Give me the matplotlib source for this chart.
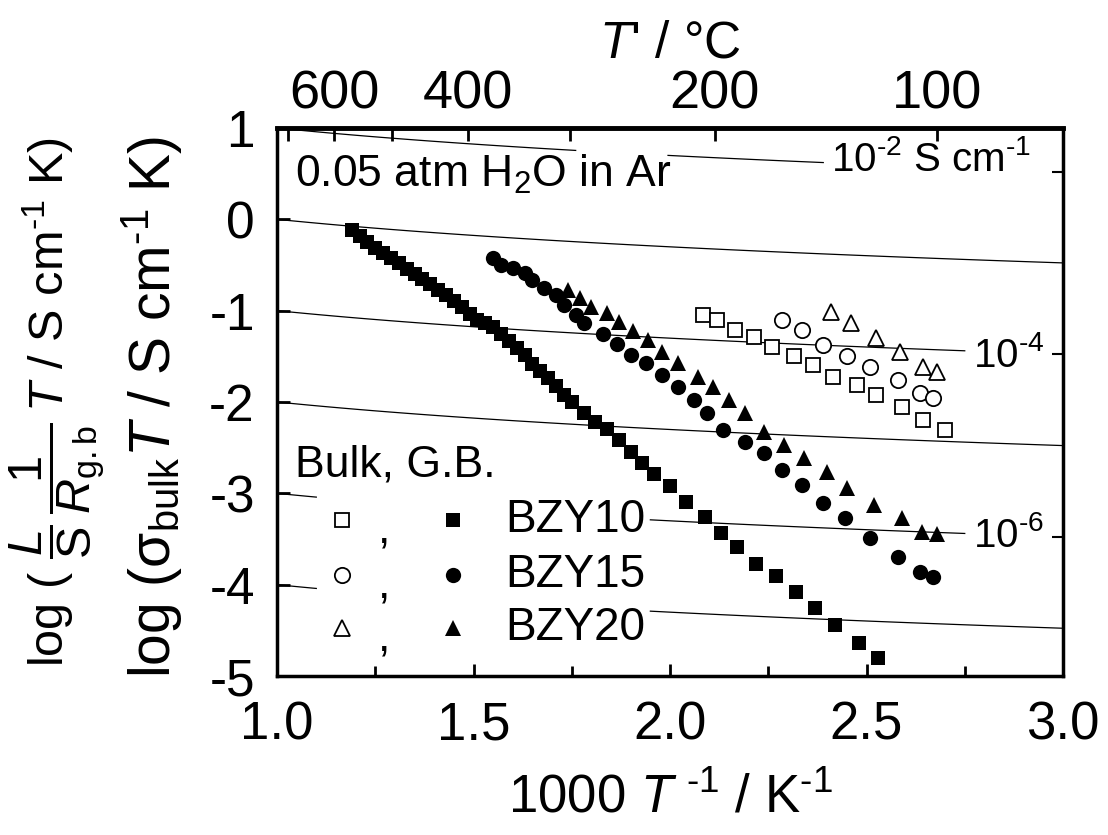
import numpy as np
import matplotlib
matplotlib.use("Agg")
import matplotlib.pyplot as plt
from matplotlib.ticker import MultipleLocator, FixedLocator, NullFormatter

FONT = 'Liberation Sans'
plt.rcParams['font.family'] = [FONT, 'DejaVu Sans']
plt.rcParams['mathtext.fontset'] = 'custom'
plt.rcParams['mathtext.rm'] = FONT
plt.rcParams['mathtext.it'] = FONT + ':italic'
plt.rcParams['mathtext.bf'] = FONT + ':bold'

HY = "\u2010"  # short hyphen used in the exponents

# ---------------- data ----------------
bzy10_bulk_x = [1.19, 1.21, 1.23, 1.25, 1.27, 1.29, 1.31, 1.33, 1.35, 1.37, 1.39, 1.41,
                1.43, 1.45, 1.47, 1.49, 1.51, 1.53, 1.55, 1.57, 1.59, 1.61, 1.63, 1.65,
                1.67, 1.69, 1.71, 1.73, 1.75, 1.78, 1.81, 1.84, 1.87, 1.90, 1.93, 1.96,
                2.00, 2.04, 2.09, 2.13, 2.17, 2.22, 2.27, 2.32, 2.37, 2.42, 2.48, 2.53]
bzy10_bulk_y = [-0.12, -0.18, -0.25, -0.31, -0.37, -0.42, -0.48, -0.54, -0.60, -0.65, -0.71, -0.77,
                -0.83, -0.89, -0.96, -1.04, -1.10, -1.14, -1.18, -1.25, -1.33, -1.41, -1.49, -1.58,
                -1.66, -1.74, -1.83, -1.92, -2.00, -2.12, -2.22, -2.30, -2.42, -2.55, -2.67, -2.79,
                -2.92, -3.10, -3.26, -3.43, -3.59, -3.77, -3.90, -4.08, -4.26, -4.44, -4.64, -4.80]

bzy15_bulk_x = [1.55, 1.57, 1.60, 1.63, 1.65, 1.68, 1.71, 1.73, 1.76, 1.78, 1.83, 1.865, 1.90,
                1.94, 1.98, 2.02, 2.06, 2.095, 2.135, 2.19, 2.24, 2.285, 2.335, 2.39, 2.445,
                2.51, 2.58, 2.635, 2.67]
bzy15_bulk_y = [-0.42, -0.50, -0.53, -0.59, -0.66, -0.75, -0.83, -0.94, -1.05, -1.14, -1.26, -1.36, -1.49,
                -1.57, -1.70, -1.84, -1.98, -2.12, -2.31, -2.44, -2.56, -2.74, -2.91, -3.11, -3.27,
                -3.49, -3.70, -3.86, -3.92]

bzy20_bulk_x = [1.74, 1.77, 1.80, 1.84, 1.87, 1.905, 1.945, 1.98, 2.02, 2.07, 2.11, 2.15, 2.19,
                2.24, 2.29, 2.34, 2.40, 2.45, 2.52, 2.59, 2.64, 2.68]
bzy20_bulk_y = [-0.77, -0.86, -0.96, -1.03, -1.12, -1.22, -1.32, -1.45, -1.57, -1.73, -1.84, -1.98, -2.12,
                -2.33, -2.47, -2.61, -2.77, -2.94, -3.13, -3.27, -3.42, -3.44]

bzy10_gb_x = [2.085, 2.12, 2.165, 2.215, 2.26, 2.315, 2.365, 2.415, 2.475, 2.525, 2.59, 2.645, 2.70]
bzy10_gb_y = [-1.05, -1.10, -1.21, -1.29, -1.40, -1.50, -1.59, -1.73, -1.81, -1.92, -2.05, -2.20, -2.31]

bzy15_gb_x = [2.285, 2.335, 2.39, 2.45, 2.51, 2.58, 2.635, 2.67]
bzy15_gb_y = [-1.10, -1.21, -1.38, -1.50, -1.62, -1.76, -1.90, -1.96]

bzy20_gb_x = [2.41, 2.46, 2.525, 2.585, 2.645, 2.68]
bzy20_gb_y = [-1.01, -1.14, -1.30, -1.45, -1.62, -1.67]

# iso-conductivity reference lines, sigma in S/cm
iso_sigma = [1e-2, 1e-3, 1e-4, 1e-5, 1e-6, 1e-7]
# x ranges (segments) of each drawn line
iso_segments = [[(1.0, 1.76), (1.995, 2.39)],
                [(1.0, 3.0)],
                [(1.0, 2.75)],
                [(1.0, 3.0)],
                [(1.0, 1.10), (1.95, 2.75)],
                [(1.0, 1.10), (1.95, 3.0)]]

top_major_C = [600, 400, 200, 100]
top_minor_C = [700, 500, 300]

# ---------------- figure ----------------
fig = plt.figure(figsize=(11.08, 8.35), dpi=100)
ax = fig.add_axes([277/1108, 1 - 676/835, (1063-277)/1108, (676-128)/835])

for sig, segs in zip(iso_sigma, iso_segments):
    for (a, b) in segs:
        xs = np.linspace(a, b, 50)
        ax.plot(xs, np.log10(sig * 1000.0 / xs), color='black', lw=0.9, zorder=1)

ms_sq, ms_ci, ms_tr = 10.5, 11, 11.5
ax.plot(bzy10_bulk_x, bzy10_bulk_y, 's', color='black', ms=ms_sq, mew=0, zorder=3)
ax.plot(bzy15_bulk_x, bzy15_bulk_y, 'o', color='black', ms=ms_ci, mew=0, zorder=3)
ax.plot(bzy20_bulk_x, bzy20_bulk_y, '^', color='black', ms=ms_tr, mew=0, zorder=3)
ax.plot(bzy10_gb_x, bzy10_gb_y, 's', mfc='white', mec='black', ms=ms_sq, mew=1.3, zorder=3)
ax.plot(bzy15_gb_x, bzy15_gb_y, 'o', mfc='white', mec='black', ms=ms_ci, mew=1.3, zorder=3)
ax.plot(bzy20_gb_x, bzy20_gb_y, '^', mfc='white', mec='black', ms=ms_tr, mew=1.3, zorder=3)

ax.set_xlim(1.0, 3.0)
ax.set_ylim(-5, 1)
ax.xaxis.set_major_locator(MultipleLocator(0.5))
ax.xaxis.set_minor_locator(MultipleLocator(0.25))
ax.yaxis.set_major_locator(MultipleLocator(1))
ax.xaxis.set_major_formatter(plt.FuncFormatter(lambda v, p: f"{v:.1f}"))
ax.yaxis.set_major_formatter(plt.FuncFormatter(lambda v, p: f"{int(round(v))}"))
ax.tick_params(axis='both', which='both', direction='in', width=2)
ax.tick_params(axis='x', labelsize=38, pad=18)
ax.tick_params(axis='y', labelsize=37, pad=16)
ax.tick_params(axis='both', which='major', length=9)
ax.tick_params(axis='both', which='minor', length=7)
for s in ax.spines.values():
    s.set_linewidth(2.5)

# right-hand ticks at labelled iso-lines
right_vals = [np.log10(s * 1000.0 / 3.0) for s in (iso_sigma[0], iso_sigma[2], iso_sigma[4])]
ry = ax.secondary_yaxis('right')
ry.set_yticks(right_vals)
ry.yaxis.set_major_formatter(NullFormatter())
ry.tick_params(direction='in', length=8, width=1.5)
ry.spines['right'].set_visible(False)

# top axis in Celsius
tx = ax.secondary_xaxis('top', functions=(lambda x: 1000.0/np.asarray(x, float) - 273.15,
                                          lambda c: 1000.0/(np.asarray(c, float) + 273.15)))
tx.xaxis.set_major_locator(FixedLocator(top_major_C))
tx.xaxis.set_minor_locator(FixedLocator(top_minor_C))
tx.xaxis.set_major_formatter(plt.FuncFormatter(lambda v, p: f"{int(v)}"))
tx.tick_params(which='both', direction='in', labelsize=39, width=2, pad=6)
tx.tick_params(which='major', length=9)
tx.tick_params(which='minor', length=9)
tx.spines['top'].set_linewidth(3.5)
tx.set_xlabel(r"$T$' / °C", fontsize=37, labelpad=9)

ax.set_xlabel(r"1000 $T^{\ " + HY + r"1}$ / K$^{" + HY + r"1}$", fontsize=38, labelpad=16)

# y labels (two lines)
fig.text(57/1108, 1 - 402/835,
         r"log ( $\dfrac{L}{\mathrm{S}}\,\dfrac{1}{R_{\mathrm{g.b}}}\,T$ / S cm$^{" + HY + r"1}$ K)",
         rotation=90, fontsize=35, ha='center', va='center')
fig.text(152/1108, 1 - 407/835,
         r"log (σ$_{\mathrm{bulk}}$$T$ / S cm$^{" + HY + r"1}$ K)",
         rotation=90, fontsize=41, ha='center', va='center')

# annotations
ax.text(0.023, 0.915, r"0.05 atm H$_2$O in Ar", transform=ax.transAxes,
        fontsize=32, ha='left', va='center')
ax.text(2.41, 0.66, r"10$^{" + HY + r"2}$ S cm$^{" + HY + r"1}$", fontsize=29, ha='left', va='center')
ax.text(2.77, -1.49, r"10$^{" + HY + r"4}$", fontsize=29, ha='left', va='center')
ax.text(2.77, -3.46, r"10$^{" + HY + r"6}$", fontsize=29, ha='left', va='center')

# legend (manual)
ax.text(0.023, 0.385, "Bulk, G.B.", transform=ax.transAxes, fontsize=32, ha='left', va='center')
rows = [(0.285, 's', "BZY10", ms_sq), (0.184, 'o', "BZY15", ms_ci), (0.088, '^', "BZY20", ms_tr)]
for yy, mk, lab, ms in rows:
    ax.plot([0.083], [yy], mk, transform=ax.transAxes, mfc='white', mec='black', ms=ms, mew=1.3,
            clip_on=False)
    ax.text(0.137, yy - 0.02, ",", transform=ax.transAxes, fontsize=32, ha='center', va='center')
    ax.plot([0.224], [yy], mk, transform=ax.transAxes, color='black', ms=ms, mew=0, clip_on=False)
    ax.text(0.29, yy, lab, transform=ax.transAxes, fontsize=33, ha='left', va='center')

fig.savefig("out.png", dpi=100)
